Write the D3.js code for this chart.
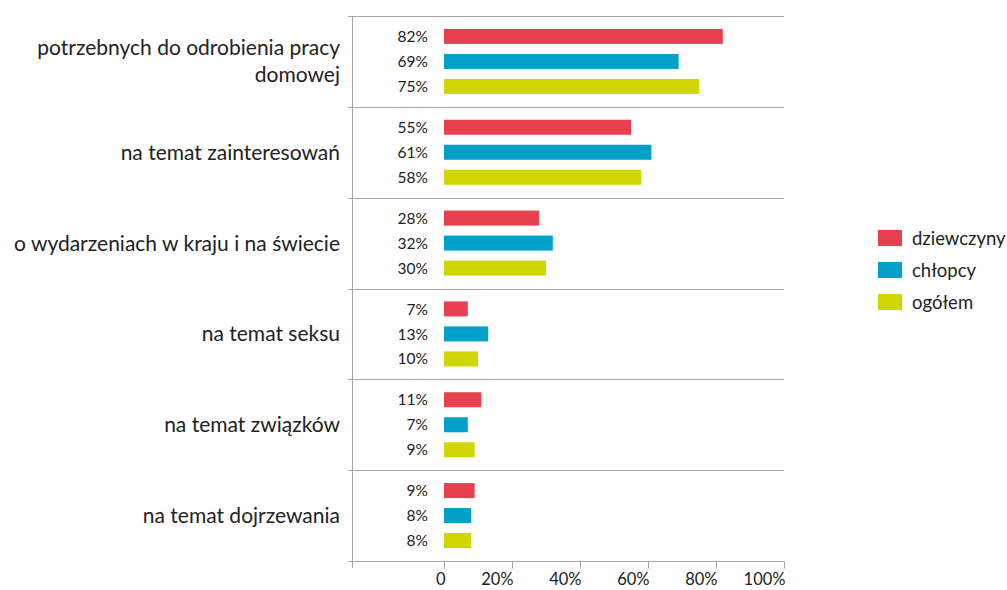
<!DOCTYPE html>
<html>
<head>
<meta charset="utf-8">
<script src="https://cdn.jsdelivr.net/npm/d3@7"></script>
<style>
  body { margin: 0; background: #fff; }
  text { font-family: Lato, "Open Sans", sans-serif; fill: #222; }
</style>
</head>
<body>
<div id="chart"></div>
<script>
// data
const categories = [
    ["potrzebnych do odrobienia pracy", "domowej"],
    ["na temat zainteresowań"],
    ["o wydarzeniach w kraju i na świecie"],
    ["na temat seksu"],
    ["na temat związków"],
    ["na temat dojrzewania"]
];
const seriesNames = ["dziewczyny", "chłopcy", "ogółem"];
const dziewczyny = [82, 55, 28, 7, 11, 9];
const chlopcy = [69, 61, 32, 13, 7, 8];
const ogolem = [75, 58, 30, 10, 9, 8];
const xTicks = [0, 20, 40, 60, 80, 100];
const colors = ["#e8404e", "#00a0c8", "#cfd600"];

const series = [dziewczyny, chlopcy, ogolem];

const svg = d3.select("#chart")
    .append("svg")
    .attr("width", 1007)
    .attr("height", 590);

const plotLeft = 352, plotRight = 784, plotTop = 16, plotBottom = 561;

const x = d3.scaleLinear()
    .domain([0, 100])
    .range([444, plotRight]);

const y = d3.scaleBand()
    .domain(d3.range(categories.length))
    .range([plotTop, plotBottom]);

const inner = d3.scaleBand()
    .domain(d3.range(series.length))
    .range([-33.75, 33.75])
    .paddingInner(0.4)
    .paddingOuter(0.05);

// horizontal separators
const bounds = d3.range(categories.length + 1).map(i => plotTop + i * y.step());
svg.append("g").selectAll("line")
    .data(bounds)
    .enter()
    .append("line")
    .attr("x1", plotLeft - 4)
    .attr("x2", plotRight)
    .attr("y1", d => Math.round(d) + 0.5)
    .attr("y2", d => Math.round(d) + 0.5)
    .attr("stroke", "#a6a6a6")
    .attr("stroke-width", 1);

// left axis line
svg.append("line")
    .attr("x1", plotLeft + 0.5)
    .attr("x2", plotLeft + 0.5)
    .attr("y1", plotTop)
    .attr("y2", plotBottom + 7)
    .attr("stroke", "#a6a6a6");

// bottom axis, labels end at their tick
const xAxisGroup = svg.append("g")
    .attr("transform", `translate(0, ${Math.round(plotBottom) + 0.5})`)
    .call(d3.axisBottom(x)
        .tickValues(xTicks)
        .tickSize(7)
        .tickPadding(5)
        .tickFormat(d => d === 0 ? "0" : d + "%"));
xAxisGroup.select(".domain").remove();
xAxisGroup.selectAll("line").attr("stroke", "#a6a6a6");
xAxisGroup.selectAll("text")
    .attr("text-anchor", "end")
    .attr("x", 1)
    .style("font-family", "Lato, sans-serif")
    .style("font-size", "16.5px")
    .attr("fill", "#222");

// bars
const groups = svg.append("g").selectAll("g")
    .data(categories)
    .enter()
    .append("g")
    .attr("transform", (d, i) => `translate(0, ${y(i) + y.bandwidth() / 2})`);

series.forEach((values, s) => {
    groups.append("rect")
        .attr("x", x(0))
        .attr("y", inner(s))
        .attr("width", (d, i) => x(values[i]) - x(0))
        .attr("height", inner.bandwidth())
        .attr("fill", colors[s]);

    groups.append("text")
        .attr("x", x(0) - 16)
        .attr("y", inner(s) + inner.bandwidth() / 2)
        .attr("dy", "0.36em")
        .attr("text-anchor", "end")
        .style("font-size", "15.5px")
        .text((d, i) => values[i] + "%");
});

// category labels
groups.append("text")
    .attr("text-anchor", "end")
    .style("font-size", "21px")
    .each(function(d) {
        const t = d3.select(this);
        const lh = 27;
        d.forEach((line, k) => {
            t.append("tspan")
                .attr("x", 340)
                .attr("y", (k - (d.length - 1) / 2) * lh)
                .attr("dy", "0.36em")
                .text(line);
        });
    });

// legend
const legend = svg.append("g")
    .attr("transform", "translate(878, 230)");
const items = legend.selectAll("g")
    .data(seriesNames)
    .enter()
    .append("g")
    .attr("transform", (d, i) => `translate(0, ${i * 32})`);
items.append("rect")
    .attr("width", 24)
    .attr("height", 16)
    .attr("fill", (d, i) => colors[i]);
items.append("text")
    .attr("x", 34)
    .attr("y", 8)
    .attr("dy", "0.36em")
    .style("font-size", "18.5px")
    .text(d => d);
</script>
</body>
</html>
